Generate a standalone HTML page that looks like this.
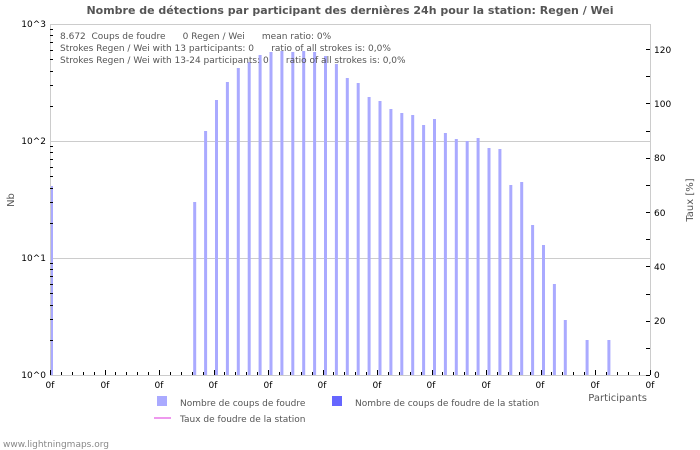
<!DOCTYPE html>
<html><head><meta charset="utf-8"><style>
body{margin:0;background:#fff;}
svg{display:block;font-family:"DejaVu Sans","Liberation Sans",sans-serif;}
.pre{white-space:pre;}
</style></head><body>
<svg id="s" width="700" height="450" viewBox="0 0 700 450">
<rect width="700" height="450" fill="#fff"/>
<text x="350" y="14" text-anchor="middle" font-size="11" font-weight="bold" fill="#555">Nombre de détections par participant des dernières 24h pour la station: Regen / Wei</text>
<g stroke="#ccc" stroke-width="1">
<line x1="50" y1="24.5" x2="650" y2="24.5"/>
<line x1="50" y1="141.5" x2="650" y2="141.5"/>
<line x1="50" y1="258.5" x2="650" y2="258.5"/>
<line x1="50.5" y1="24" x2="50.5" y2="375"/>
<line x1="650.5" y1="24" x2="650.5" y2="375"/>
<line x1="50" y1="375.5" x2="650" y2="375.5"/>
</g>
<g id="bars" fill="#aaaaff"></g>
<g id="ticks" stroke="#000" stroke-width="1"></g>
<g font-size="9" fill="#000">
<text x="46" y="27" text-anchor="end">10^3</text>
<text x="46" y="144" text-anchor="end">10^2</text>
<text x="46" y="261" text-anchor="end">10^1</text>
<text x="46" y="378" text-anchor="end">10^0</text>
<text x="654" y="53">120</text>
<text x="654" y="107">100</text>
<text x="654" y="161">80</text>
<text x="654" y="216">60</text>
<text x="654" y="270">40</text>
<text x="654" y="324">20</text>
<text x="654" y="378">0</text>
</g>
<g font-size="9" fill="#000" text-anchor="middle">
<text x="50" y="388">0f</text><text x="105" y="388">0f</text><text x="159" y="388">0f</text><text x="213" y="388">0f</text><text x="268" y="388">0f</text><text x="322" y="388">0f</text><text x="377" y="388">0f</text><text x="431" y="388">0f</text><text x="486" y="388">0f</text><text x="540" y="388">0f</text><text x="595" y="388">0f</text><text x="650" y="388">0f</text>
</g>
<g font-size="9" fill="#555" class="pre" xml:space="preserve">
<text x="60" y="39" class="pre">8.672  Coups de foudre      0 Regen / Wei      mean ratio: 0%</text>
<text x="60" y="51" class="pre">Strokes Regen / Wei with 13 participants: 0      ratio of all strokes is: 0,0%</text>
<text x="60" y="63" class="pre">Strokes Regen / Wei with 13-24 participants: 0      ratio of all strokes is: 0,0%</text>
</g>
<text x="14" y="200" font-size="10" fill="#555" text-anchor="middle" transform="rotate(-90 14 200)">Nb</text>
<text x="693" y="200" font-size="10" fill="#555" text-anchor="middle" transform="rotate(-90 693 200)">Taux [%]</text>
<text x="647" y="401" font-size="10" fill="#555" text-anchor="end">Participants</text>
<rect x="157" y="396" width="10" height="10" fill="#aaaaff"/>
<text x="180" y="406" font-size="9" fill="#555">Nombre de coups de foudre</text>
<rect x="332" y="396" width="10" height="10" fill="#6666ff"/>
<text x="355" y="406" font-size="9" fill="#555">Nombre de coups de foudre de la station</text>
<line x1="154" y1="418" x2="171" y2="418" stroke="#ee99ee" stroke-width="2"/>
<text x="180" y="422" font-size="9" fill="#555">Taux de foudre de la station</text>
<text x="3" y="447" font-size="9" fill="#888">www.lightningmaps.org</text>
</svg>
<script>
var ns="http://www.w3.org/2000/svg";
function el(p,t,a){var e=document.createElementNS(ns,t);for(var k in a)e.setAttribute(k,a[k]);p.appendChild(e);return e;}
var tops={0:186,13:202,14:131,15:100,16:82,17:68,18:62,19:55,20:52,21:51,22:52,23:51,24:52,25:56,26:64,27:78,28:83,29:97,30:101,31:109,32:113,33:115,34:125,35:119,36:133,37:139,38:141,39:138,40:148,41:149,42:185,43:182,44:225,45:245,46:284,47:320,49:340,51:340};
var b=document.getElementById("bars");
for(var k in tops){var x=(k==0?51:50+10.9*k+1.5);el(b,"rect",{x:x,y:tops[k],width:(k==0?2:3),height:375-tops[k]});}
var t=document.getElementById("ticks");
for(var i=0;i<=55;i++){var x=Math.round(50+10.9*i)+0.5;el(t,"line",{x1:x,y1:375,x2:x,y2:(i%5==0?370:372)});}
for(var d=0;d<3;d++){for(var m=2;m<=9;m++){var y=Math.round(375-117*d-117*Math.log10(m))+0.5;el(t,"line",{x1:50,y1:y,x2:53,y2:y});}}
for(var v=0;v<=120;v+=10){var y=Math.round(375-v*326/120)+0.5;el(t,"line",{x1:646,y1:y,x2:650,y2:y});}
</script>
</body></html>
